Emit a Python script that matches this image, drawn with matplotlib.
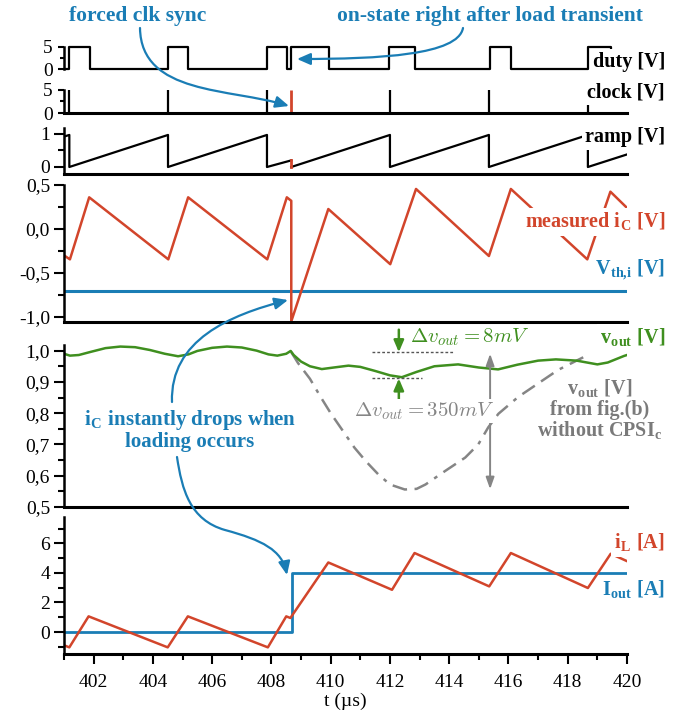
import matplotlib
matplotlib.use('Agg')
import matplotlib.pyplot as plt
from matplotlib.path import Path
from matplotlib.patches import FancyArrowPatch
from matplotlib.ticker import MultipleLocator, FixedLocator, FuncFormatter

plt.rcParams['font.family'] = ['Liberation Serif', 'DejaVu Serif']
plt.rcParams['mathtext.fontset'] = 'cm'

RED = '#d2452b'
BLUE = '#1a7db5'
GREEN = '#3f8f1f'
GRAY = '#858585'

# switching events (us)
clock_t = [401.18, 404.51, 407.85, 412.00, 415.34, 418.68]
sync_t = 408.67
duty_on = [401.18, 404.51, 407.85, 408.67, 411.98, 415.38, 418.68]
duty_off = [401.88, 405.20, 408.54, 409.94, 412.85, 416.10, 419.45]

# ramp before and after the forced sync
ramp1_t = [401.0, 401.18, 401.18, 404.51, 404.51, 407.85, 407.85, 408.67]
ramp1_v = [0.92, 0.97, 0.0, 0.97, 0.0, 0.97, 0.0, 0.20]
ramp2_t = [408.67, 412.00, 412.00, 415.34, 415.34, 418.68, 418.68, 420.0]
ramp2_v = [0.0, 0.97, 0.0, 0.97, 0.0, 0.97, 0.0, 0.38]

# measured capacitor current
ic_t = [401.0, 401.2, 401.85, 404.52, 405.19, 407.86, 408.52, 408.67, 408.67,
        409.92, 412.01, 412.88, 415.34, 416.08, 418.66, 419.44, 420.0]
ic_v = [-0.30, -0.345, 0.36, -0.345, 0.36, -0.345, 0.36, 0.32, -1.05,
        0.227, -0.40, 0.455, -0.307, 0.455, -0.345, 0.424, 0.24]
vth = -0.70

# output voltage with CPSI
vout_t = [401.0, 401.2, 401.5, 401.9, 402.4, 402.9, 403.4, 403.9, 404.4, 404.85,
          405.2, 405.5, 406.0, 406.5, 407.0, 407.5, 407.9, 408.2, 408.5, 408.65,
          408.75, 409.0, 409.3, 409.7, 410.1, 410.6, 411.0, 411.5, 412.0, 412.4,
          412.9, 413.5, 414.3, 415.0, 415.65, 416.3, 417.0, 417.6, 418.3, 419.0,
          419.35, 419.9, 420.0]
vout_v = [0.990, 0.984, 0.986, 0.996, 1.008, 1.013, 1.011, 1.002, 0.990, 0.982,
          0.988, 0.999, 1.009, 1.013, 1.010, 1.000, 0.988, 0.984, 0.990, 0.999,
          0.986, 0.965, 0.950, 0.941, 0.946, 0.952, 0.948, 0.935, 0.921, 0.915,
          0.932, 0.950, 0.956, 0.946, 0.940, 0.955, 0.968, 0.972, 0.968, 0.956,
          0.962, 0.983, 0.986]

# output voltage without CPSI_c, fig.(b)
wo_t = [408.67, 408.9, 409.3, 409.66, 410.0, 410.4, 410.8, 411.2, 411.6, 412.0,
        412.5, 412.9, 413.2, 413.86, 414.54, 414.98, 415.32, 415.66, 416.33,
        417.0, 417.67, 418.34, 418.68]
wo_v = [0.995, 0.96, 0.91, 0.852, 0.80, 0.745, 0.69, 0.645, 0.605, 0.572,
        0.556, 0.558, 0.572, 0.615, 0.658, 0.70, 0.755, 0.798, 0.852,
        0.895, 0.938, 0.97, 0.986]

# inductor and load current
il_t = [401.0, 401.18, 401.83, 404.5, 405.18, 407.88, 408.5, 408.64, 409.92,
        412.07, 412.83, 415.35, 416.08, 418.68, 419.45, 420.0]
il_v = [-0.9, -1.04, 1.06, -1.04, 1.06, -1.04, 1.06, 0.95, 4.71,
        2.86, 5.35, 3.09, 5.35, 2.98, 5.3, 4.8]
iout_t = [401.0, 408.69, 408.69, 420.0]
iout_v = [0.0, 0.0, 4.0, 4.0]

W, H = 679, 714
fig = plt.figure(figsize=(W / 100, H / 100), dpi=100)


def px(x, y):
    return x / W, 1 - y / H


def panel(top, bottom):
    ax = fig.add_axes([64 / W, 1 - bottom / H, 563 / W, (bottom - top) / H])
    ax.set_facecolor('none')
    ax.spines['top'].set_visible(False)
    ax.spines['right'].set_visible(False)
    ax.spines['left'].set_linewidth(1.8)
    ax.spines['bottom'].set_linewidth(2.2)
    ax.set_xlim(401, 420)
    ax.tick_params(axis='x', which='both', bottom=False, labelbottom=False)
    ax.tick_params(axis='y', which='major', length=7, width=1.5,
                   labelsize=14, pad=3)
    ax.tick_params(axis='y', which='minor', length=4, width=1.5)
    return ax


comma = FuncFormatter(lambda v, p: f'{v:.1f}'.replace('.', ','))

# duty
ax = panel(40, 76)
t, v = [401.0], [0]
for on, off in zip(duty_on, duty_off):
    t += [on, on, off, off]
    v += [0, 5, 5, 0]
t.append(420.0)
v.append(0)
ax.plot(t, v, color='k', lw=1.6)
ax.set_ylim(-1.59, 6.59)
ax.spines['bottom'].set_visible(False)
ax.spines['left'].set_bounds(0, 5)
ax.yaxis.set_major_locator(FixedLocator([0, 5]))
ax.yaxis.set_minor_locator(FixedLocator([2.5]))
ax.tick_params(axis='y', which='major', length=4, pad=4)
ax.tick_params(axis='y', which='minor', length=3)

# clock
ax = panel(84, 113)
ax.vlines(clock_t, 0, 5, color='k', lw=1.6)
ax.vlines([sync_t], 0, 5, color=RED, lw=2.0)
ax.set_ylim(0, 6.3)
ax.spines['left'].set_bounds(0, 5)
ax.yaxis.set_major_locator(FixedLocator([0, 5]))
ax.yaxis.set_minor_locator(FixedLocator([2.5]))
ax.tick_params(axis='y', which='major', length=4, pad=4)
ax.tick_params(axis='y', which='minor', length=3)

# ramp
ax = panel(128, 174)
ax.plot(ramp1_t, ramp1_v, color='k', lw=1.6)
ax.plot(ramp2_t, ramp2_v, color='k', lw=1.6)
ax.plot([sync_t, sync_t], [ramp1_v[-1], 0.0], color=RED, lw=2.0)
ax.set_ylim(-0.212, 1.18)
ax.yaxis.set_major_locator(FixedLocator([0, 1]))
ax.yaxis.set_minor_locator(FixedLocator([0.5]))

# measured iC
ax = panel(185, 322)
ax.axhline(vth, color=BLUE, lw=2.2)
ax.plot(ic_t, ic_v, color=RED, lw=1.8)
ax.set_ylim(-1.057, 0.5)
ax.yaxis.set_major_locator(FixedLocator([-1.0, -0.5, 0.0, 0.5]))
ax.yaxis.set_minor_locator(FixedLocator([-0.75, -0.25, 0.25]))
ax.yaxis.set_major_formatter(comma)

# vout
ax = panel(345, 507)
ax.plot(wo_t, wo_v, color=GRAY, lw=1.8, dashes=(6, 3, 6, 3, 1.5, 3))
ax.plot(vout_t, vout_v, color=GREEN, lw=1.8)
ax.set_ylim(0.5, 1.018)
ax.yaxis.set_major_locator(FixedLocator([0.5, 0.6, 0.7, 0.8, 0.9, 1.0]))
ax.yaxis.set_minor_locator(FixedLocator([0.55, 0.65, 0.75, 0.85, 0.95]))
ax.yaxis.set_major_formatter(comma)
ax.plot([411.4, 414.14], [0.995, 0.995], color='#555555', lw=1.0, ls=(0, (2, 1.5)))
ax.plot([411.4, 413.08], [0.911, 0.911], color='#555555', lw=1.0, ls=(0, (2, 1.5)))
ax.annotate('', xy=(412.3, 0.995), xytext=(412.3, 1.067), annotation_clip=False,
            arrowprops=dict(arrowstyle='-|>,head_length=0.7,head_width=0.3',
                            color=GREEN, lw=1.8, shrinkA=0, shrinkB=0))
ax.annotate('', xy=(412.3, 0.911), xytext=(412.3, 0.841), annotation_clip=False,
            arrowprops=dict(arrowstyle='-|>,head_length=0.7,head_width=0.3',
                            color=GREEN, lw=1.8, shrinkA=0, shrinkB=0))
ax.annotate('', xy=(415.38, 0.557), xytext=(415.38, 0.99),
            arrowprops=dict(arrowstyle='<|-|>,head_length=0.7,head_width=0.25',
                            color=GRAY, lw=1.4, shrinkA=0, shrinkB=0))
ax.text(*px(470, 337), r'$\Delta v_{out} = 8mV$', transform=fig.transFigure,
        color=GREEN, fontsize=15, ha='center', va='center')
ax.text(*px(424, 411), r'$\Delta v_{out} = 350mV$', transform=fig.transFigure,
        color=GRAY, fontsize=15, ha='center', va='center',
        bbox=dict(facecolor='white', edgecolor='none', pad=1))

# iL and Iout
ax = panel(517, 654)
ax.plot(iout_t, iout_v, color=BLUE, lw=2.0)
ax.plot(il_t, il_v, color=RED, lw=1.8)
ax.set_ylim(-1.49, 7.79)
ax.yaxis.set_major_locator(FixedLocator([0, 2, 4, 6]))
ax.yaxis.set_minor_locator(FixedLocator([-1, 1, 3, 5, 7]))
ax.xaxis.set_major_locator(MultipleLocator(2))
ax.xaxis.set_minor_locator(MultipleLocator(1))
ax.tick_params(axis='x', which='major', bottom=True, labelbottom=True,
               length=7.5, width=1.5, labelsize=14, pad=7)
ax.tick_params(axis='x', which='minor', bottom=True, length=4.5, width=1.5)
ax.set_xlabel('t (µs)', fontsize=14, labelpad=1)

# signal names on the right
box = dict(facecolor='white', edgecolor='none', pad=2)
labels = [('duty [V]', 62, 'k'), ('clock [V]', 92, 'k'), ('ramp [V]', 137, 'k'),
          (r'measured i$_\mathregular{C}$ [V]', 222, RED),
          (r'V$_\mathregular{th{,}i}$ [V]', 270, BLUE),
          (r'v$_\mathregular{out}$ [V]', 338, GREEN),
          (r'i$_\mathregular{L}$ [A]', 543, RED),
          (r'I$_\mathregular{out}$ [A]', 590, BLUE)]
for s, y, c in labels:
    fig.text(*px(665, y), s, color=c, fontsize=14.5, fontweight='bold',
             ha='right', va='center', bbox=box)

fig.text(*px(600, 410), 'v$_\\mathregular{out}$ [V]\nfrom fig.(b)\nwithout CPSI$_\\mathregular{c}$',
         color='#7a7a7a', fontsize=14.5, fontweight='bold', ha='center',
         va='center', linespacing=1.0)

# annotations
fig.text(*px(138, 16), 'forced clk sync', color=BLUE, fontsize=15.5,
         fontweight='bold', ha='center', va='center')
fig.text(*px(490, 16), 'on-state right after load transient', color=BLUE,
         fontsize=15.5, fontweight='bold', ha='center', va='center')
fig.text(*px(190, 430), 'i$_\\mathregular{C}$ instantly drops when\nloading occurs',
         color=BLUE, fontsize=15, fontweight='bold', ha='center', va='center',
         linespacing=0.95)

C4 = Path.CURVE4
arrows = [
    ([(140, 28), (141, 95), (230, 88), (289, 106)], [Path.MOVETO, C4, C4, C4]),
    ([(463, 28), (458, 55), (380, 59), (297, 59)], [Path.MOVETO, C4, C4, C4]),
    ([(172, 402), (170, 340), (230, 315), (288, 300)], [Path.MOVETO, C4, C4, C4]),
    ([(177, 457), (182, 490), (190, 520), (225, 530), (262, 540), (282, 550),
      (287, 575)], [Path.MOVETO, C4, C4, C4, C4, C4, C4]),
]
for pts, codes in arrows:
    path = Path([px(*p) for p in pts], codes)
    fig.add_artist(FancyArrowPatch(path=path, transform=fig.transFigure,
                                   arrowstyle='-|>,head_length=0.8,head_width=0.35',
                                   mutation_scale=10, color=BLUE, lw=1.6))

fig.savefig('out.png', dpi=100)
